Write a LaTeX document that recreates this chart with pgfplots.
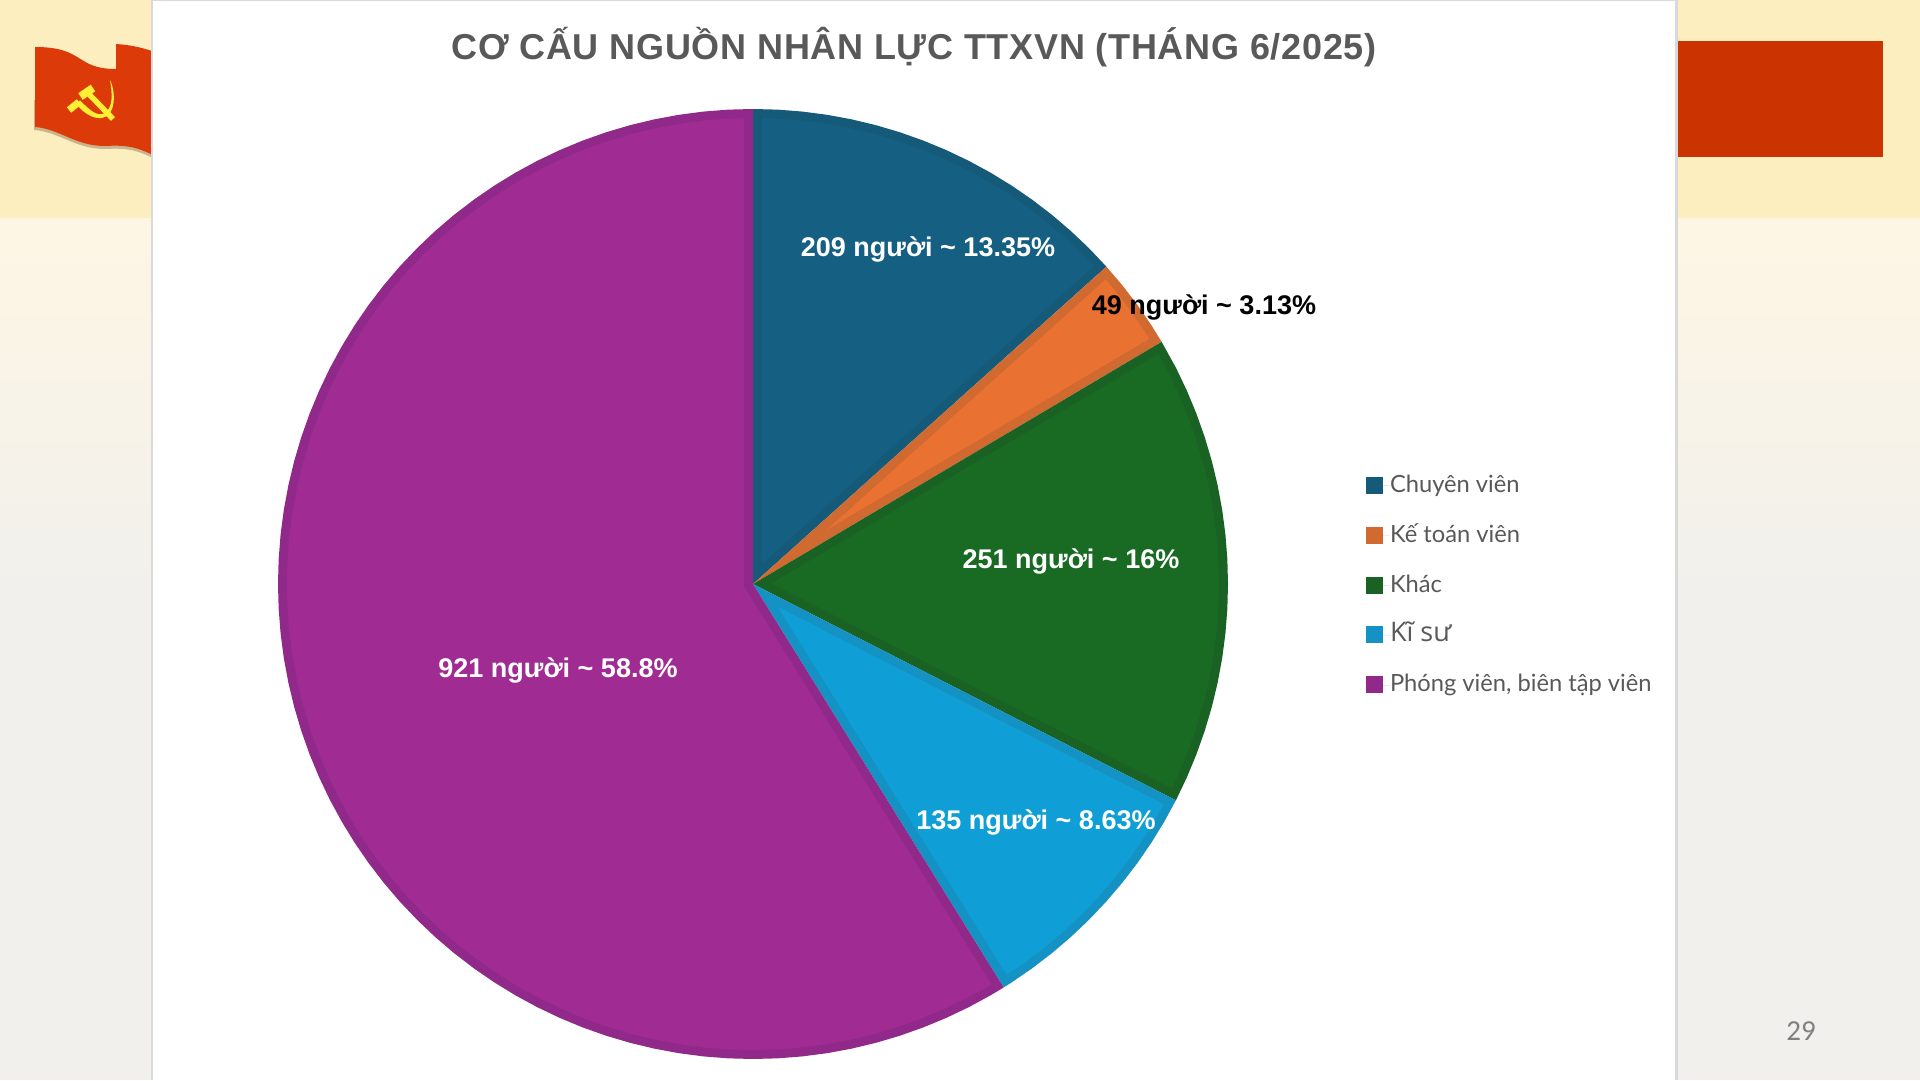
\documentclass[border=0pt]{standalone}
\usepackage{pgfplots}
\pgfplotsset{compat=1.18}
\usepackage{fontspec}
\setmainfont{Liberation Sans}
\newfontfamily\legfont{Lato}
\newfontfamily\kifont{Open Sans}
\newfontfamily\numfont{Carlito}
\newfontfamily\titlefont[LetterSpace=2.0]{Liberation Sans}
\definecolor{band}{HTML}{FDEEC0}
\definecolor{bgtop}{HTML}{FEF6E4}
\definecolor{bgbot}{HTML}{F1F0EC}
\definecolor{redbox}{HTML}{CB3400}
\definecolor{flagred}{HTML}{DD3A0A}
\definecolor{flagshade}{HTML}{C9B48C}
\definecolor{sym}{HTML}{FFF035}
\definecolor{txt}{HTML}{595959}
\definecolor{cA}{HTML}{156082}
\definecolor{dA}{HTML}{165A7A}
\definecolor{cB}{HTML}{E97132}
\definecolor{dB}{HTML}{D16A30}
\definecolor{cC}{HTML}{196B24}
\definecolor{dC}{HTML}{1A6224}
\definecolor{cD}{HTML}{0F9ED5}
\definecolor{dD}{HTML}{1592C4}
\definecolor{cE}{HTML}{A02B93}
\definecolor{dE}{HTML}{91298A}
\begin{document}
\begin{tikzpicture}[x=1pt,y=1pt]
\clip (0,0) rectangle (1920,1080);
% slide background
\fill[bgbot] (0,0) rectangle (1920,1080);
\shade[top color=bgtop,bottom color=bgbot] (0,480) rectangle (1920,862);
\fill[band] (0,862) rectangle (1920,1080);
% red box on the right
\fill[redbox] (1678,923) rectangle (1883,1039);
% flag
\begin{scope}[shift={(0,1080)},yscale=-1]
\fill[flagshade] (34,130) .. controls (60,132) and (75,149) .. (105,149) .. controls (125,148) and (135,149) .. (155,159) -- (155,100) -- (34,100) -- cycle;
\fill[flagred] (35,47) .. controls (85,47) and (75,69) .. (116,69) -- (116,44) .. controls (130,45) and (140,47) .. (155,52) -- (155,156) .. controls (135,146) and (125,145) .. (105,146) .. controls (75,146) and (60,129) .. (35,127) -- cycle;
\draw[sym,line width=8pt] (80.5,96.5) -- (93,88);
\draw[sym,line width=5.5pt] (87,92) -- (113,119);
\fill[sym] (110,80) .. controls (112,92) and (114,108) .. (104,113.5) .. controls (96,117) and (88,108) .. (80,100.5) -- (76,104) .. controls (84,113) and (92,119) .. (102,118) .. controls (116,116) and (116,92) .. (110,80) -- cycle;
\draw[sym,line width=7pt] (79,102) -- (69,110);
\end{scope}
% white panel
\fill[black!15] (150.5,0) rectangle (1678,1080);
\fill[white] (153,0) rectangle (1675,1078.5);
\begin{axis}[
  at={(0,0)},anchor=south west,
  x=1pt,y=1pt,
  xmin=-753,xmax=1167,ymin=-496,ymax=584,
  hide axis,clip=false,
  legend cell align=left,
  legend style={at={(axis cs:613,111.5)},anchor=north west,draw=none,fill=none,
    inner sep=0pt,outer sep=0pt,row sep=22.8pt,
    nodes={inner sep=0pt,outer sep=0pt,text height=20pt,text depth=7pt},
    font=\legfont\fontsize{23.7}{27}\selectfont,text=txt},
  legend image code/.code={\fill[#1] (0pt,-8pt) rectangle (17pt,9pt);\path (0pt,0pt) -- (24pt,0pt);},
  every axis plot/.append style={no markers,draw=none},
]
% outer wedges: angle in degrees, radius in pixels
\addplot[data cs=polar,fill=dA] coordinates {(0,0)(90,475)(87,475)(84,475)(81,475)(78,475)(75,475)(72,475)(69,475)(66,475)(63,475)(60,475)(57,475)(54,475)(51,475)(48,475)(45,475)(42,475)(41.92,475)} --cycle;
\addlegendentry{Chuyên viên}
\addplot[data cs=polar,fill=dB] coordinates {(0,0)(41.92,475)(39,475)(36,475)(33,475)(30.65,475)} --cycle;
\addlegendentry{Kế toán viên}
\addplot[data cs=polar,fill=dC] coordinates {(0,0)(30.65,475)(27,475)(24,475)(21,475)(18,475)(15,475)(12,475)(9,475)(6,475)(3,475)(0,475)(-3,475)(-6,475)(-9,475)(-12,475)(-15,475)(-18,475)(-21,475)(-24,475)(-27,475)(-27.09,475)} --cycle;
\addlegendentry{Khác}
\addplot[data cs=polar,fill=dD] coordinates {(0,0)(-27.09,475)(-30,475)(-33,475)(-36,475)(-39,475)(-42,475)(-45,475)(-48,475)(-51,475)(-54,475)(-57,475)(-58.14,475)} --cycle;
\addlegendentry{\kifont\fontsize{27}{27}\selectfont Kĩ sư}
\addplot[data cs=polar,fill=dE] coordinates {(0,0)(-58.14,475)(-60,475)(-63,475)(-66,475)(-69,475)(-72,475)(-75,475)(-78,475)(-81,475)(-84,475)(-87,475)(-90,475)(-93,475)(-96,475)(-99,475)(-102,475)(-105,475)(-108,475)(-111,475)(-114,475)(-117,475)(-120,475)(-123,475)(-126,475)(-129,475)(-132,475)(-135,475)(-138,475)(-141,475)(-144,475)(-147,475)(-150,475)(-153,475)(-156,475)(-159,475)(-162,475)(-165,475)(-168,475)(-171,475)(-174,475)(-177,475)(-180,475)(-183,475)(-186,475)(-189,475)(-192,475)(-195,475)(-198,475)(-201,475)(-204,475)(-207,475)(-210,475)(-213,475)(-216,475)(-219,475)(-222,475)(-225,475)(-228,475)(-231,475)(-234,475)(-237,475)(-240,475)(-243,475)(-246,475)(-249,475)(-252,475)(-255,475)(-258,475)(-261,475)(-264,475)(-267,475)(-270,475)} --cycle;
\addlegendentry{Phóng viên, biên tập viên}
% inner wedges, inset from the border of each slice
\addplot[data cs=polar,fill=cA,forget plot] coordinates {(65.96,22.1)(88.89,466)(87,466)(84,466)(81,466)(78,466)(75,466)(72,466)(69,466)(66,466)(63,466)(60,466)(57,466)(54,466)(51,466)(48,466)(45,466)(43.03,466)} --cycle;
\addplot[data cs=polar,fill=cB,forget plot] coordinates {(36.285,91.6)(40.81,466)(39,466)(36,466)(33,466)(31.76,466)} --cycle;
\addplot[data cs=polar,fill=cC,forget plot] coordinates {(1.78,18.6)(29.54,466)(27,466)(24,466)(21,466)(18,466)(15,466)(12,466)(9,466)(6,466)(3,466)(0,466)(-3,466)(-6,466)(-9,466)(-12,466)(-15,466)(-18,466)(-21,466)(-24,466)(-25.98,466)} --cycle;
\addplot[data cs=polar,fill=cD,forget plot] coordinates {(-42.615,33.6)(-28.2,466)(-30,466)(-33,466)(-36,466)(-39,466)(-42,466)(-45,466)(-48,466)(-51,466)(-54,466)(-57,466)(-57.03,466)} --cycle;
\addplot[data cs=polar,fill=cE,forget plot] coordinates {(-164.07,9.36)(-59.25,466)(-60,466)(-63,466)(-66,466)(-69,466)(-72,466)(-75,466)(-78,466)(-81,466)(-84,466)(-87,466)(-90,466)(-93,466)(-96,466)(-99,466)(-102,466)(-105,466)(-108,466)(-111,466)(-114,466)(-117,466)(-120,466)(-123,466)(-126,466)(-129,466)(-132,466)(-135,466)(-138,466)(-141,466)(-144,466)(-147,466)(-150,466)(-153,466)(-156,466)(-159,466)(-162,466)(-165,466)(-168,466)(-171,466)(-174,466)(-177,466)(-180,466)(-183,466)(-186,466)(-189,466)(-192,466)(-195,466)(-198,466)(-201,466)(-204,466)(-207,466)(-210,466)(-213,466)(-216,466)(-219,466)(-222,466)(-225,466)(-228,466)(-231,466)(-234,466)(-237,466)(-240,466)(-243,466)(-246,466)(-249,466)(-252,466)(-255,466)(-258,466)(-261,466)(-264,466)(-267,466)(-268.89,466)} --cycle;
% data labels
\tikzset{lab/.style={font=\bfseries\fontsize{27}{30}\selectfont,text=white,inner sep=0pt}}
\node[lab] at (axis cs:175,335) {209 người \textasciitilde{} 13.35\%};
\node[lab,text=black] at (axis cs:451,277) {49 người \textasciitilde{} 3.13\%};
\node[lab] at (axis cs:318,23) {251 người \textasciitilde{} 16\%};
\node[lab] at (axis cs:283,-238) {135 người \textasciitilde{} 8.63\%};
\node[lab] at (axis cs:-195,-86) {921 người \textasciitilde{} 58.8\%};
% title and page number
\node[font=\titlefont\bfseries\fontsize{36}{40}\selectfont,text=txt,inner sep=0pt] at (axis cs:161,537) {CƠ CẤU NGUỒN NHÂN LỰC TTXVN (THÁNG 6/2025)};
\node[font=\numfont\fontsize{29}{32}\selectfont,text=black!50,inner sep=0pt] at (axis cs:1048,-447) {29};
\end{axis}
\end{tikzpicture}
\end{document}
